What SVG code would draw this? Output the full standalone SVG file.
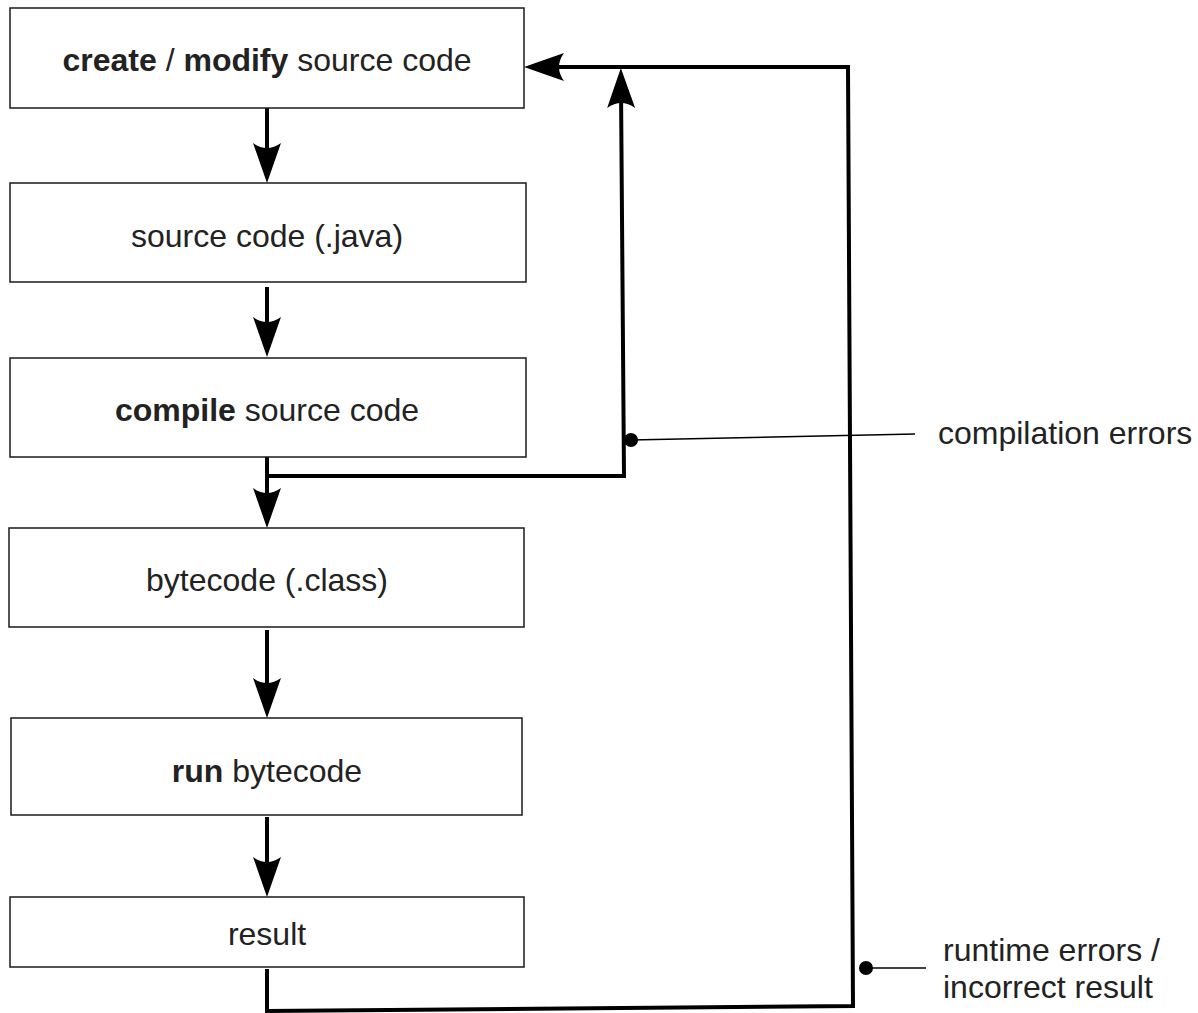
<svg xmlns="http://www.w3.org/2000/svg" width="1198" height="1013" viewBox="0 0 1198 1013">
  <style>
    .box { fill: #ffffff; stroke: #1a1a1a; stroke-width: 1.5; }
    .lbl { font-family: "Liberation Sans", Arial, sans-serif; font-size: 32px; fill: #222222; }
    .ctr { text-anchor: middle; }
    .b { font-weight: bold; }
    .flow { fill: none; stroke: #000000; stroke-width: 4; stroke-linejoin: miter; }
    .lead { fill: none; stroke: #000000; stroke-width: 1.5; }
  </style>
  <defs>
    <!-- filled arrowhead with concave back; the line stops 20px short of the tip -->
    <marker id="arrow" markerUnits="userSpaceOnUse" markerWidth="44" markerHeight="32" refX="20" refY="0" orient="auto" overflow="visible">
      <path d="M40,0 L0,-14 Q10,0 0,14 Z" fill="#000000"/>
    </marker>
  </defs>
  <rect width="1198" height="1013" fill="#ffffff"/>

  <g id="connectors">
    <line class="flow" x1="267" y1="108" x2="267" y2="163" marker-end="url(#arrow)"/>
    <line class="flow" x1="267" y1="287" x2="267" y2="337" marker-end="url(#arrow)"/>
    <line class="flow" x1="267" y1="457" x2="267" y2="508" marker-end="url(#arrow)"/>
    <line class="flow" x1="267" y1="630" x2="267" y2="698" marker-end="url(#arrow)"/>
    <line class="flow" x1="267" y1="817" x2="267" y2="877" marker-end="url(#arrow)"/>
    <!-- compilation errors loop back -->
    <polyline class="flow" points="267,476 624,476 621,88" marker-end="url(#arrow)"/>
    <!-- runtime errors loop back -->
    <polyline class="flow" points="267,969 267,1011 853,1006 848,67 544,67" marker-end="url(#arrow)"/>
    <!-- annotation leaders -->
    <circle cx="631" cy="440" r="7" fill="#000000"/>
    <line class="lead" x1="631" y1="440" x2="915" y2="434"/>
    <circle cx="866" cy="968" r="7" fill="#000000"/>
    <line class="lead" x1="866" y1="968" x2="926" y2="968"/>
  </g>

  <g id="node-edit">
    <rect class="box" x="10" y="8" width="514" height="100"/>
    <text class="lbl ctr" x="267" y="71"><tspan class="b">create</tspan> / <tspan class="b">modify</tspan> source code</text>
  </g>
  <g id="node-source">
    <rect class="box" x="10" y="183" width="516" height="99"/>
    <text class="lbl ctr" x="267" y="247">source code (.java)</text>
  </g>
  <g id="node-compile">
    <rect class="box" x="10" y="358" width="516" height="99"/>
    <text class="lbl ctr" x="267" y="421"><tspan class="b">compile</tspan> source code</text>
  </g>
  <g id="node-bytecode">
    <rect class="box" x="9" y="528" width="515" height="99"/>
    <text class="lbl ctr" x="267" y="591">bytecode (.class)</text>
  </g>
  <g id="node-run">
    <rect class="box" x="11" y="718" width="511" height="97"/>
    <text class="lbl ctr" x="267" y="782"><tspan class="b">run</tspan> bytecode</text>
  </g>
  <g id="node-result">
    <rect class="box" x="10" y="897" width="514" height="70"/>
    <text class="lbl ctr" x="267" y="945">result</text>
  </g>

  <g id="note-compile">
    <text class="lbl" x="938" y="444">compilation errors</text>
  </g>
  <g id="note-runtime">
    <text class="lbl" x="943" y="961">runtime errors /</text>
    <text class="lbl" x="943" y="998">incorrect result</text>
  </g>
</svg>
